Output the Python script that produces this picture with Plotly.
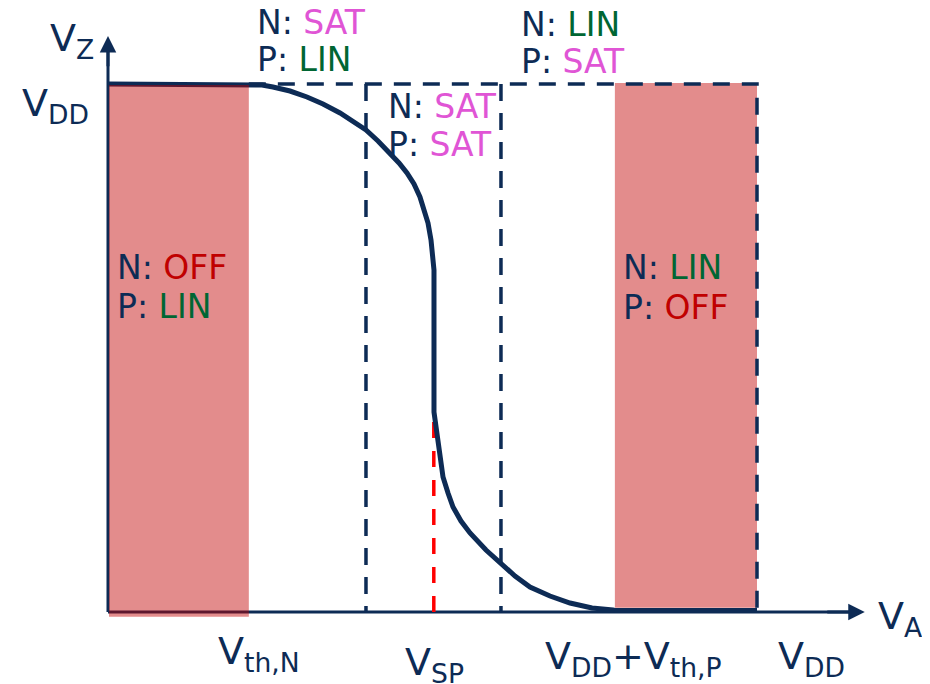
import plotly.graph_objects as go

# ---------------- data (voltages normalised to VDD = 1) ----------------
VDD = 1.0
VTH_N = 0.217           # V_th,N
V_SP = 0.502            # switching point
VDD_PLUS_VTH_P = 0.781  # V_DD + V_th,P
SAT_BOX_LEFT = 0.3975   # both-saturated region boundaries
SAT_BOX_RIGHT = 0.6055
VA_AXIS_END = 1.166
VZ_AXIS_END = 1.091

# transfer characteristic V_Z(V_A)
vtc_x = [0.0, 0.2173, 0.2373, 0.2542, 0.2804, 0.3066, 0.3313, 0.3575, 0.3775,
         0.3975, 0.4160, 0.4345, 0.4484, 0.4607, 0.4715, 0.4807, 0.4869, 0.4931,
         0.4977, 0.5008, 0.5023, 0.5023, 0.5039, 0.5069, 0.5116, 0.5162, 0.5239,
         0.5316, 0.5439, 0.5578, 0.5824, 0.6071, 0.6271, 0.6502, 0.6810, 0.7119,
         0.7458, 0.7781, 0.7810, 1.0]
vtc_y = [1.0, 1.0, 0.9981, 0.9943, 0.9867, 0.9754, 0.9621, 0.9451, 0.9299,
         0.9129, 0.8920, 0.8693, 0.8504, 0.8314, 0.8106, 0.7860, 0.7633, 0.7367,
         0.7045, 0.6723, 0.6477, 0.3788, 0.3636, 0.3390, 0.2955, 0.2557, 0.2254,
         0.1989, 0.1723, 0.1496, 0.1174, 0.0890, 0.0682, 0.0473, 0.0303, 0.0170,
         0.0076, 0.0038, 0.003, 0.003]
VSP_MARK_TOP = 0.3788

# operating-region labels: (N state, P state)
region_states = [("OFF", "LIN"), ("SAT", "LIN"), ("SAT", "SAT"), ("LIN", "SAT"), ("LIN", "OFF")]

# axis labels
tick_labels = ["V<sub>th,N</sub>", "V<sub>SP</sub>", "V<sub>DD</sub>+V<sub>th,P</sub>", "V<sub>DD</sub>"]
vdd_label = "V<sub>DD</sub>"
x_title = "V<sub>A</sub>"
y_title = "V<sub>Z</sub>"

# ---------------- styles ----------------
NAVY = "#0D2B55"
STATE_COLORS = {"SAT": "#E055D5", "LIN": "#006633", "OFF": "#C00000"}
FONT = "DejaVu Sans"
PAGE_W, PAGE_H = 930, 684
OFF = 8                      # default page body margin
W, H = PAGE_W - OFF, PAGE_H - OFF
X0, SX = 108, 649            # page pixel of V_A = 0, pixels per VDD
Y0, SY = 612, 528

def paper_x(px):
    return (px - OFF) / W

def paper_y(py):
    return 1 - (py - OFF) / H

fig = go.Figure()

# axes lines
fig.add_trace(go.Scatter(x=[0, VA_AXIS_END - 0.02], y=[0, 0], mode="lines",
                         line=dict(color=NAVY, width=3), hoverinfo="skip"))
fig.add_trace(go.Scatter(x=[0, 0], y=[0, VZ_AXIS_END - 0.02], mode="lines",
                         line=dict(color=NAVY, width=3), hoverinfo="skip"))

DASH = "17px,12px"
# dashed region boundaries
fig.add_trace(go.Scatter(x=[VTH_N, VDD, VDD], y=[VDD, VDD, 0], mode="lines",
                         line=dict(color=NAVY, width=3.5, dash=DASH), hoverinfo="skip"))
for xb in [SAT_BOX_LEFT, SAT_BOX_RIGHT]:
    fig.add_trace(go.Scatter(x=[xb, xb], y=[VDD, 0], mode="lines",
                             line=dict(color=NAVY, width=3.5, dash=DASH), hoverinfo="skip"))
# V_SP marker
fig.add_trace(go.Scatter(x=[V_SP, V_SP], y=[0, VSP_MARK_TOP], mode="lines",
                         line=dict(color="#FF0000", width=3.5, dash="16px,13px"), hoverinfo="skip"))

# transfer curve
fig.add_trace(go.Scatter(x=vtc_x, y=vtc_y, mode="lines",
                         line=dict(color=NAVY, width=5), hoverinfo="skip"))

# shaded OFF regions
fig.add_shape(type="rect", x0=0.0015, x1=VTH_N, y0=-0.009, y1=0.998, layer="above",
              line=dict(width=0), fillcolor="rgba(192,0,0,0.45)")
fig.add_shape(type="rect", x0=VDD_PLUS_VTH_P, x1=VDD, y0=0.008, y1=1.002, layer="below",
              line=dict(width=0), fillcolor="rgba(192,0,0,0.45)")

# arrowheads
fig.add_annotation(x=VA_AXIS_END, y=0, ax=VA_AXIS_END - 0.06, ay=0, xref="x", yref="y",
                   axref="x", ayref="y", showarrow=True, arrowhead=2, arrowsize=1.1,
                   arrowwidth=3, arrowcolor=NAVY, standoff=0, text="")
fig.add_annotation(x=0, y=VZ_AXIS_END, ax=0, ay=VZ_AXIS_END - 0.06, xref="x", yref="y",
                   axref="x", ayref="y", showarrow=True, arrowhead=2, arrowsize=1.1,
                   arrowwidth=3, arrowcolor=NAVY, standoff=0, text="")

# region label positions (left px, N-line centre px, P-line centre px)
region_pos = [(115, 267, 306.5), (255, 22.5, 60), (386, 106.5, 144.5),
              (519, 24.5, 62), (621, 267.5, 307.5)]
for (n_state, p_state), (lx, ny, py) in zip(region_states, region_pos):
    for prefix, state, cy in [("N: ", n_state, ny), ("P: ", p_state, py)]:
        fig.add_annotation(
            x=paper_x(lx), y=paper_y(cy), xref="paper", yref="paper",
            xanchor="left", yanchor="middle", showarrow=False,
            text=f"{prefix}<span style='color:{STATE_COLORS[state]}'>{state}</span>",
            font=dict(family=FONT, size=33, color=NAVY))

# axis labels (left px, V baseline px)
label_specs = [(y_title, 48, 50), (vdd_label, 20, 115),
               (tick_labels[0], 216, 662), (tick_labels[1], 403, 673),
               (tick_labels[2], 543, 667), (tick_labels[3], 776, 667),
               (x_title, 876, 627)]
for text, lx, base in label_specs:
    fig.add_annotation(
        x=paper_x(lx), y=paper_y(base - 9), xref="paper", yref="paper",
        xanchor="left", yanchor="middle", showarrow=False, text=text,
        font=dict(family=FONT, size=38, color=NAVY))

fig.update_layout(
    width=W, height=H, autosize=False,
    margin=dict(l=0, r=0, t=0, b=0, pad=0),
    paper_bgcolor="white", plot_bgcolor="white", showlegend=False,
    xaxis=dict(range=[(OFF - X0) / SX, (PAGE_W - X0) / SX], visible=False, fixedrange=True),
    yaxis=dict(range=[(Y0 - PAGE_H) / SY, (Y0 - OFF) / SY], visible=False, fixedrange=True),
)

fig.write_html("out.html", config={"displayModeBar": False})
